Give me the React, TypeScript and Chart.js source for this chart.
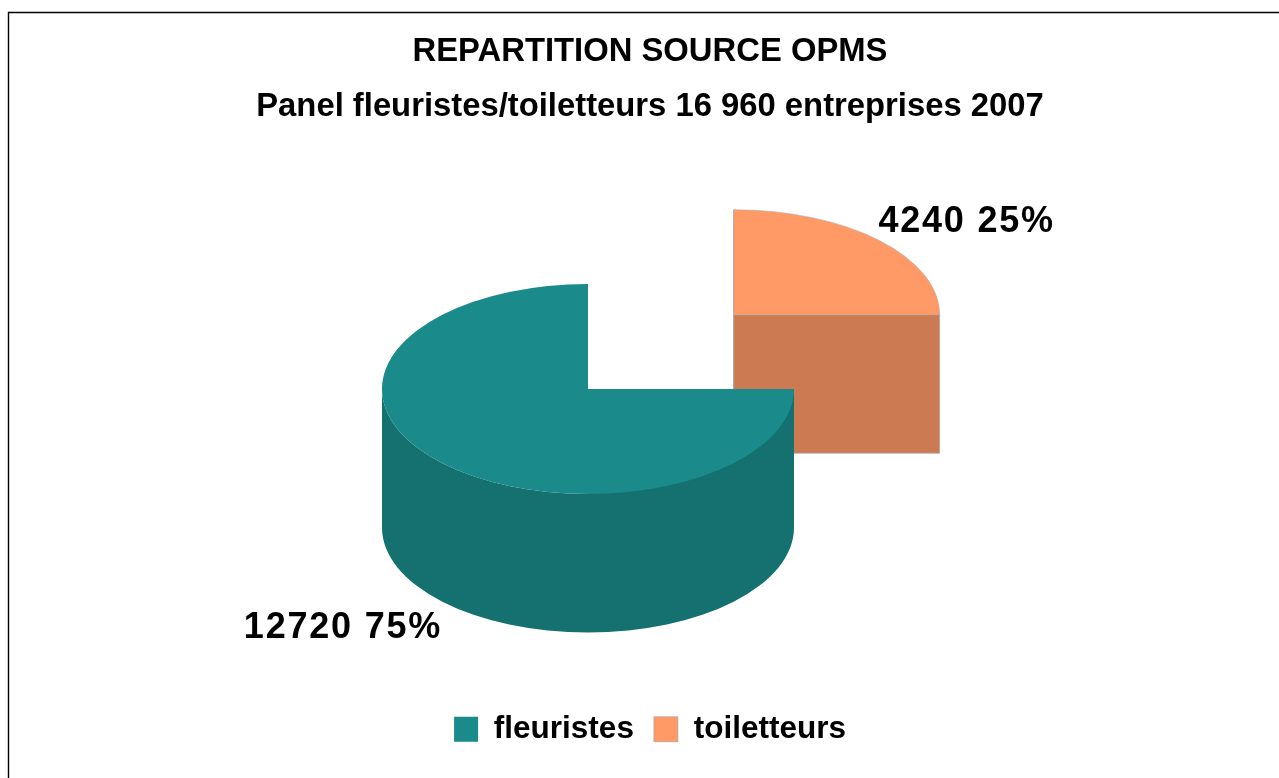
import React, { useEffect, useRef } from "react";
import { Chart, registerables } from "chart.js";

Chart.register(...registerables);

const categories = ["fleuristes", "toiletteurs"];
const values = [12720, 4240];
const titleLines = ["REPARTITION SOURCE OPMS", "Panel fleuristes/toiletteurs 16 960 entreprises 2007"];
const topColors = ["#1A8A8A", "#FF9966"];
const sideColors = ["#157070", "#CC7A52"];
const edgeWidths = [0, 1];
const EDGE = "rgba(170,170,170,0.7)";
const FONT = '"Liberation Sans", Arial, sans-serif';

const PIE_X = 588;
const PIE_Y = 389;
const RADIUS = 206;
const SQUASH = 0.51;
const DEPTH = 138.5;
const EXPLODE = [0, 824];
const LABEL_OFFSETS = [
  [-245, 239],
  [233, -93],
];

const pie3d = {
  id: "pie3d",
  beforeDraw(chart: any) {
    const { ctx } = chart;
    ctx.save();
    ctx.fillStyle = "#fff";
    ctx.fillRect(0, 0, chart.width, chart.height);
    ctx.strokeStyle = "#000";
    ctx.lineWidth = 1.4;
    ctx.beginPath();
    ctx.moveTo(8.5, chart.height + 5);
    ctx.lineTo(8.5, 12.5);
    ctx.lineTo(chart.width + 5, 12.5);
    ctx.stroke();
    ctx.restore();
  },
  beforeDatasetDraw(chart: any, args: any) {
    const { ctx } = chart;
    const meta = args.meta;
    const total = values.reduce((a, b) => a + b, 0);
    const order = [1, 0];
    for (const i of order) {
      const arc = meta.data[i];
      const { x, y, startAngle: s, endAngle: e, outerRadius: R } = arc;
      const mid = (s + e) / 2;
      const off = (arc.options.offset || 0) / 4;
      const X = PIE_X + Math.cos(mid) * off;
      const Y = PIE_Y + Math.sin(mid) * off * SQUASH;

      ctx.save();
      ctx.fillStyle = sideColors[i];
      ctx.strokeStyle = EDGE;
      ctx.lineWidth = 1;
      for (const a of [s, e]) {
        ctx.beginPath();
        ctx.moveTo(X, Y);
        ctx.lineTo(X + Math.cos(a) * R, Y + Math.sin(a) * R * SQUASH);
        ctx.lineTo(X + Math.cos(a) * R, Y + Math.sin(a) * R * SQUASH + DEPTH);
        ctx.lineTo(X, Y + DEPTH);
        ctx.closePath();
        ctx.fill();
        if (edgeWidths[i] > 0) ctx.stroke();
      }
      for (let k = -1; k <= 1; k++) {
        const a0 = Math.max(s, k * 2 * Math.PI);
        const a1 = Math.min(e, k * 2 * Math.PI + Math.PI);
        if (a1 > a0) {
          ctx.beginPath();
          ctx.ellipse(X, Y, R, R * SQUASH, 0, a0, a1);
          ctx.ellipse(X, Y + DEPTH, R, R * SQUASH, 0, a1, a0, true);
          ctx.closePath();
          ctx.fill();
        }
      }
      ctx.restore();

      ctx.save();
      ctx.translate(PIE_X, PIE_Y);
      ctx.scale(1, SQUASH);
      ctx.translate(-x, -y);
      arc.draw(ctx);
      ctx.restore();
    }

    ctx.save();
    ctx.fillStyle = "#000";
    ctx.font = `bold 36px ${FONT}`;
    ctx.letterSpacing = "1.8px";
    ctx.textAlign = "center";
    ctx.textBaseline = "middle";
    values.forEach((v, i) => {
      const arc = meta.data[i];
      const mid = (arc.startAngle + arc.endAngle) / 2;
      const off = (arc.options.offset || 0) / 4;
      const pct = Math.round((v / total) * 100);
      ctx.fillText(
        `${v} ${pct}%`,
        PIE_X + Math.cos(mid) * off + LABEL_OFFSETS[i][0],
        PIE_Y + Math.sin(mid) * off * SQUASH + LABEL_OFFSETS[i][1]
      );
    });
    ctx.restore();
    return false;
  },
};

export default function App() {
  const ref = useRef<HTMLCanvasElement>(null);
  useEffect(() => {
    const chart = new Chart(ref.current!, {
      type: "pie",
      data: {
        labels: categories,
        datasets: [
          {
            data: values,
            backgroundColor: topColors,
            borderWidth: edgeWidths,
            borderColor: EDGE,
            offset: EXPLODE,
            radius: RADIUS,
            cutout: "0%",
          },
        ],
      },
      plugins: [pie3d],
      options: {
        animation: false,
        responsive: false,
        devicePixelRatio: 1,
        rotation: 90,
        layout: { padding: { left: 21, right: 0, top: 0, bottom: 23 } },
        plugins: {
          tooltip: { enabled: false },
          title: {
            display: true,
            text: titleLines,
            color: "#000",
            font: { family: FONT, size: 32.8, weight: "bold", lineHeight: 1.68 },
            padding: { top: 24, bottom: 0 },
          },
          legend: {
            display: true,
            position: "bottom",
            labels: {
              color: "#000",
              boxWidth: 24,
              boxHeight: 25,
              padding: 20,
              font: { family: FONT, size: 31.5, weight: "bold" },
            },
          },
        },
      },
    } as any);
    return () => chart.destroy();
  }, []);
  return (
    <div style={{ position: "fixed", left: 0, top: 0 }}>
      <canvas ref={ref} width={1279} height={778} style={{ display: "block" }} />
    </div>
  );
}
